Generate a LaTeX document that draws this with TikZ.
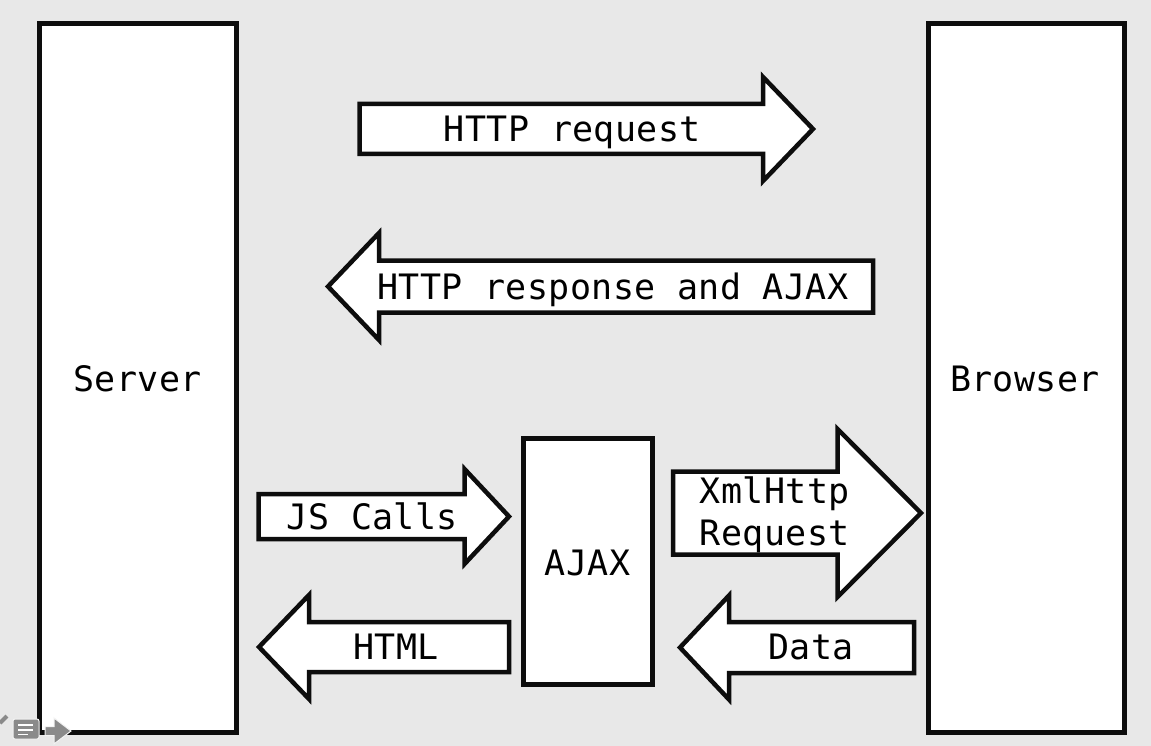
\documentclass[tikz,border=0pt]{standalone}
\usepackage{fontspec}
\newfontfamily\dmono[LetterSpace=1.2]{DejaVu Sans Mono}
\definecolor{bg}{HTML}{E8E8E8}
\definecolor{ink}{HTML}{0D0D0D}
\definecolor{icongray}{HTML}{8A8A8A}
\newcommand\blockarrow[6]{% x0, xbase, xtip, yc, shaft half, head half
  \filldraw[arrowshape] (#1,#4-#5) -- (#2,#4-#5) -- (#2,#4-#6) -- (#3,#4)
    -- (#2,#4+#6) -- (#2,#4+#5) -- (#1,#4+#5) -- cycle;}
\begin{document}
\begin{tikzpicture}[x=1pt,y=-1pt,
  box/.style={draw=ink,fill=white,line width=5pt},
  arrowshape/.style={draw=ink,fill=white,line width=4.5pt,line join=miter},
  lbl/.style={font=\dmono\fontsize{35}{42}\selectfont,text=black,anchor=base,inner sep=0pt}]
\useasboundingbox (0,0) rectangle (1151,746);
\fill[bg] (0,0) rectangle (1151,746);
% main boxes
\draw[box] (39.5,23.5) rectangle (236.5,732.5);
\draw[box] (928.5,23.5) rectangle (1124.5,732.5);
\draw[box] (523.5,438.5) rectangle (652.5,684);
% block arrows
\blockarrow{359.5}{763}{813}{129}{25}{52}
\blockarrow{873}{379}{328}{286.5}{26}{53.5}
\blockarrow{258.5}{464.5}{509}{516.5}{22.5}{47.5}
\blockarrow{673}{837.5}{921}{513}{41.5}{84}
\blockarrow{509}{309}{259}{647}{25}{52}
\blockarrow{914}{729}{680}{647.5}{25.5}{52}
% labels
\node[lbl] (server) at (137.5,391.5) {Server};
\node[lbl] (browser) at (1025,391.5) {Browser};
\node[lbl] (ajax) at (587.5,575.5) {AJAX};
\node[lbl] (req) at (572.5,142) {HTTP request};
\node[lbl] (resp) at (613,299.5) {HTTP response and AJAX};
\node[lbl] (js) at (372.5,529.5) {JS Calls};
\node[lbl] (xml1) at (775,503) {XmlHttp};
\node[lbl] (xml2) at (775,545.5) {Request};
\node[lbl] (html) at (396,659.5) {HTML};
\node[lbl] (data) at (811,659.5) {Data};
% corner viewer icons
\draw[icongray,line width=4pt] (0,723) -- (7,716);
\filldraw[fill=icongray,draw=white!90!icongray,line width=1pt,rounded corners=2pt] (13,719) rectangle (39,739);
\draw[white,line width=1.6pt] (18,725) -- (33,725) (18,730) -- (33,730) (18,734.5) -- (28,734.5);
\filldraw[fill=icongray,draw=white!90!icongray,line width=1pt] (45,726.5) -- (54,726.5) -- (54,718) -- (71,731) -- (54,744) -- (54,735.5) -- (45,735.5) -- cycle;
\end{tikzpicture}
\end{document}
